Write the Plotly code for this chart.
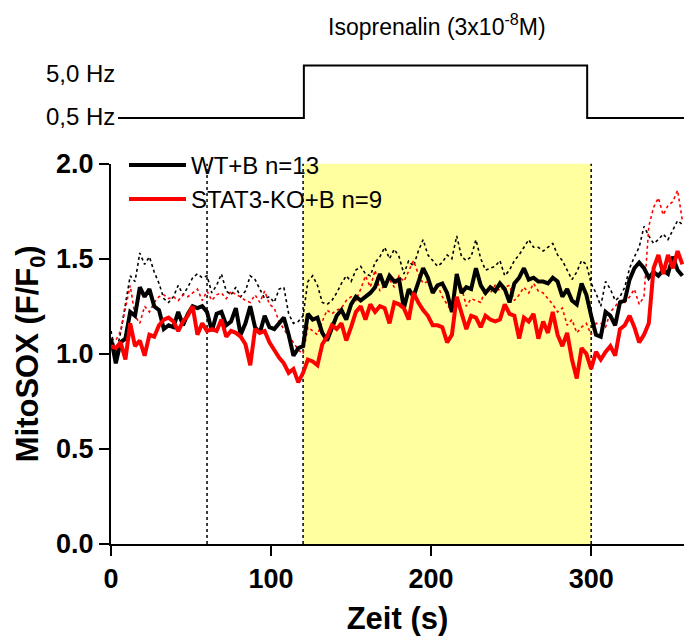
import plotly.graph_objects as go

# ---------------- data ----------------
time_s = list(range(0, 360, 3))  # sampling grid, seconds

wt_mean = [
    1.08, 0.95, 1.06, 1.08, 1.22, 1.20, 1.35, 1.30, 1.34, 1.25,
    1.23, 1.13, 1.15, 1.14, 1.22, 1.15, 1.21, 1.25, 1.24, 1.25,
    1.22, 1.12, 1.21, 1.22, 1.15, 1.17, 1.24, 1.10, 1.16, 1.25,
    1.14, 1.11, 1.20, 1.14, 1.13, 1.16, 1.19, 1.10, 0.99, 1.03,
    1.04, 1.21, 1.18, 1.19, 1.11, 1.07, 1.13, 1.20, 1.23, 1.18,
    1.26, 1.30, 1.28, 1.30, 1.32, 1.35, 1.42, 1.35, 1.41, 1.38,
    1.39, 1.24, 1.34, 1.30, 1.38, 1.45, 1.40, 1.32, 1.36, 1.37,
    1.32, 1.22, 1.42, 1.32, 1.35, 1.34, 1.45, 1.36, 1.32, 1.35,
    1.33, 1.37, 1.34, 1.27, 1.37, 1.40, 1.45, 1.39, 1.40, 1.38,
    1.38, 1.37, 1.40, 1.38, 1.30, 1.34, 1.28, 1.26, 1.37, 1.31,
    1.20, 1.10, 1.09, 1.22, 1.20, 1.15, 1.27, 1.28, 1.39, 1.45,
    1.48, 1.45, 1.40, 1.43, 1.41, 1.44, 1.42, 1.51, 1.44, 1.41,
]

wt_upper = [
    1.12, 1.00, 1.11, 1.25, 1.41, 1.38, 1.53, 1.47, 1.51, 1.43,
    1.37, 1.29, 1.27, 1.30, 1.36, 1.31, 1.35, 1.40, 1.42, 1.40,
    1.41, 1.32, 1.36, 1.42, 1.33, 1.31, 1.35, 1.30, 1.33, 1.41,
    1.39, 1.34, 1.29, 1.30, 1.27, 1.34, 1.35, 1.21, 1.16, 1.17,
    1.20, 1.38, 1.41, 1.36, 1.27, 1.26, 1.28, 1.32, 1.37, 1.41,
    1.38, 1.44, 1.46, 1.42, 1.41, 1.48, 1.51, 1.56, 1.50, 1.55,
    1.51, 1.42, 1.49, 1.46, 1.54, 1.60, 1.52, 1.49, 1.46, 1.48,
    1.52, 1.50, 1.62, 1.51, 1.49, 1.51, 1.60, 1.50, 1.44, 1.45,
    1.46, 1.49, 1.41, 1.44, 1.49, 1.52, 1.56, 1.60, 1.56, 1.56,
    1.54, 1.56, 1.58, 1.52, 1.49, 1.44, 1.39, 1.43, 1.49, 1.47,
    1.37, 1.32, 1.25, 1.38, 1.34, 1.28, 1.30, 1.35, 1.45, 1.51,
    1.56, 1.67, 1.62, 1.58, 1.60, 1.63, 1.60, 1.65, 1.70, 1.68,
]

ko_mean = [
    1.04, 1.03, 1.06, 0.97, 1.16, 1.04, 1.07, 0.99, 1.10, 1.09,
    1.15, 1.18, 1.19, 1.17, 1.12, 1.17, 1.20, 1.25, 1.10, 1.16,
    1.12, 1.13, 1.12, 1.18, 1.09, 1.12, 1.11, 1.09, 1.05, 0.94,
    1.13, 1.11, 1.12, 1.06, 1.02, 0.98, 0.95, 0.90, 0.92, 0.85,
    0.90, 0.97, 0.96, 0.94, 1.05, 1.09, 1.15, 1.13, 1.16, 1.07,
    1.14, 1.22, 1.25, 1.18, 1.26, 1.22, 1.25, 1.24, 1.16, 1.27,
    1.26, 1.24, 1.18, 1.32, 1.27, 1.23, 1.20, 1.15, 1.15, 1.14,
    1.06, 1.10, 1.30, 1.22, 1.13, 1.20, 1.19, 1.14, 1.20, 1.18,
    1.17, 1.18, 1.26, 1.21, 1.20, 1.08, 1.19, 1.17, 1.21, 1.08,
    1.17, 1.11, 1.22, 1.10, 1.04, 1.11, 0.97, 0.87, 1.03, 1.00,
    0.92, 1.01, 0.97, 1.01, 1.04, 0.99, 1.13, 1.15, 1.20, 1.14,
    1.06, 1.10, 1.16, 1.45, 1.52, 1.42, 1.52, 1.45, 1.54, 1.47,
]

ko_upper = [
    1.08, 1.07, 1.12, 1.25, 1.36, 1.20, 1.16, 1.25, 1.22, 1.27,
    1.30, 1.31, 1.29, 1.30, 1.28, 1.31, 1.30, 1.32, 1.34, 1.28,
    1.33, 1.28, 1.31, 1.32, 1.29, 1.33, 1.31, 1.30, 1.28, 1.27,
    1.31, 1.27, 1.33, 1.26, 1.24, 1.17, 1.13, 1.09, 1.06, 1.02,
    1.00, 1.14, 1.12, 1.10, 1.17, 1.23, 1.21, 1.23, 1.24, 1.28,
    1.30, 1.28, 1.34, 1.41, 1.35, 1.44, 1.33, 1.36, 1.39, 1.35,
    1.41, 1.38, 1.44, 1.49, 1.42, 1.37, 1.38, 1.32, 1.36, 1.30,
    1.26, 1.22, 1.37, 1.35, 1.25, 1.29, 1.28, 1.27, 1.34, 1.32,
    1.36, 1.33, 1.35, 1.36, 1.28, 1.31, 1.35, 1.32, 1.37, 1.33,
    1.32, 1.29, 1.26, 1.22, 1.24, 1.15, 1.18, 1.11, 1.14, 1.16,
    1.10, 1.16, 1.16, 1.14, 1.22, 1.25, 1.28, 1.27, 1.30, 1.34,
    1.26, 1.30, 1.67, 1.77, 1.82, 1.73, 1.78, 1.80, 1.86, 1.70,
]

# stimulation protocol (pacing frequency)
protocol_t = [4.4, 120.5, 120.5, 297.5, 297.5, 358]
protocol_hz = [0.5, 0.5, 5.0, 5.0, 0.5, 0.5]
protocol_labels = ["5,0 Hz", "0,5 Hz"]

iso_window = (120, 300)
marker_times = [60, 120, 300]
x_ticks = [0, 100, 200, 300]
y_ticks = [0.0, 0.5, 1.0, 1.5, 2.0]

FONT = "Liberation Sans, Arial, sans-serif"

fig = go.Figure()

fig.add_trace(go.Scatter(x=time_s, y=wt_upper, mode="lines",
                         line=dict(color="black", width=1.6, dash="dot"),
                         showlegend=False, hoverinfo="skip"))
fig.add_trace(go.Scatter(x=time_s, y=ko_upper, mode="lines",
                         line=dict(color="#FF0000", width=1.6, dash="dot"),
                         showlegend=False, hoverinfo="skip"))
fig.add_trace(go.Scatter(x=time_s, y=wt_mean, mode="lines", name="WT+B n=13",
                         line=dict(color="black", width=4)))
fig.add_trace(go.Scatter(x=time_s, y=ko_mean, mode="lines", name="STAT3-KO+B n=9",
                         line=dict(color="#FF0000", width=4)))

fig.add_trace(go.Scatter(x=protocol_t, y=protocol_hz, mode="lines", yaxis="y2",
                         line=dict(color="black", width=2), showlegend=False,
                         hoverinfo="skip"))

shapes = [dict(type="rect", xref="x", yref="y", x0=iso_window[0], x1=iso_window[1],
               y0=0, y1=2, fillcolor="#FFFFA0", line=dict(width=0), layer="below")]
for mt in marker_times:
    shapes.append(dict(type="line", xref="x", yref="y", x0=mt, x1=mt, y0=0, y1=2,
                       line=dict(color="black", width=1.5, dash="dot"), layer="below"))

H_PLOT = 534.0
main_top = 384.0 / H_PLOT

annotations = [
    dict(text="Isoprenalin (3x10<sup>-8</sup>M)", xref="paper", yref="paper",
         x=0.569, y=(544 - 20) / H_PLOT, xanchor="center", yanchor="middle",
         showarrow=False, font=dict(family=FONT, size=23, color="black")),
    dict(text=protocol_labels[0], xref="paper", yref="paper",
         x=(117 - 111) / 573.0, y=(544 - 69) / H_PLOT, xanchor="right", yanchor="middle",
         showarrow=False, font=dict(family=FONT, size=24, color="black")),
    dict(text=protocol_labels[1], xref="paper", yref="paper",
         x=(117 - 111) / 573.0, y=(544 - 112) / H_PLOT, xanchor="right", yanchor="middle",
         showarrow=False, font=dict(family=FONT, size=24, color="black")),
]

fig.update_layout(
    width=684, height=637,
    margin=dict(l=111, r=0, t=10, b=93, pad=0),
    paper_bgcolor="white", plot_bgcolor="white",
    font=dict(family=FONT, color="black"),
    shapes=shapes, annotations=annotations,
    showlegend=True,
    legend=dict(x=13 / 573.0, y=(544 - 139) / H_PLOT, xanchor="left", yanchor="top",
                bgcolor="rgba(0,0,0,0)", font=dict(family=FONT, size=24, color="black"),
                itemwidth=57, tracegroupgap=0),
    xaxis=dict(range=[0, 358], domain=[0, 1], anchor="y",
               showline=True, linecolor="black", linewidth=2,
               ticks="outside", ticklen=10, tickwidth=2, tickcolor="black",
               tickvals=x_ticks, showgrid=False, zeroline=False,
               tickfont=dict(family=FONT, size=27, color="black", weight="bold"),
               title=dict(text="Zeit (s)", standoff=14,
                          font=dict(family=FONT, size=31, color="black", weight="bold"))),
    yaxis=dict(range=[0, 2], domain=[0, main_top], anchor="x",
               showline=True, linecolor="black", linewidth=2,
               ticks="outside", ticklen=10, tickwidth=2, tickcolor="black",
               tickvals=y_ticks, tickformat=".1f", showgrid=False, zeroline=False,
               tickfont=dict(family=FONT, size=27, color="black", weight="bold"),
               title=dict(text="MitoSOX (F/F<sub>0</sub>)", standoff=8,
                          font=dict(family=FONT, size=31, color="black", weight="bold"))),
    yaxis2=dict(domain=[0.75, 1.0], range=[-2.0, 9.335], anchor="x",
                visible=False, fixedrange=True),
)

fig.write_html("out.html")
